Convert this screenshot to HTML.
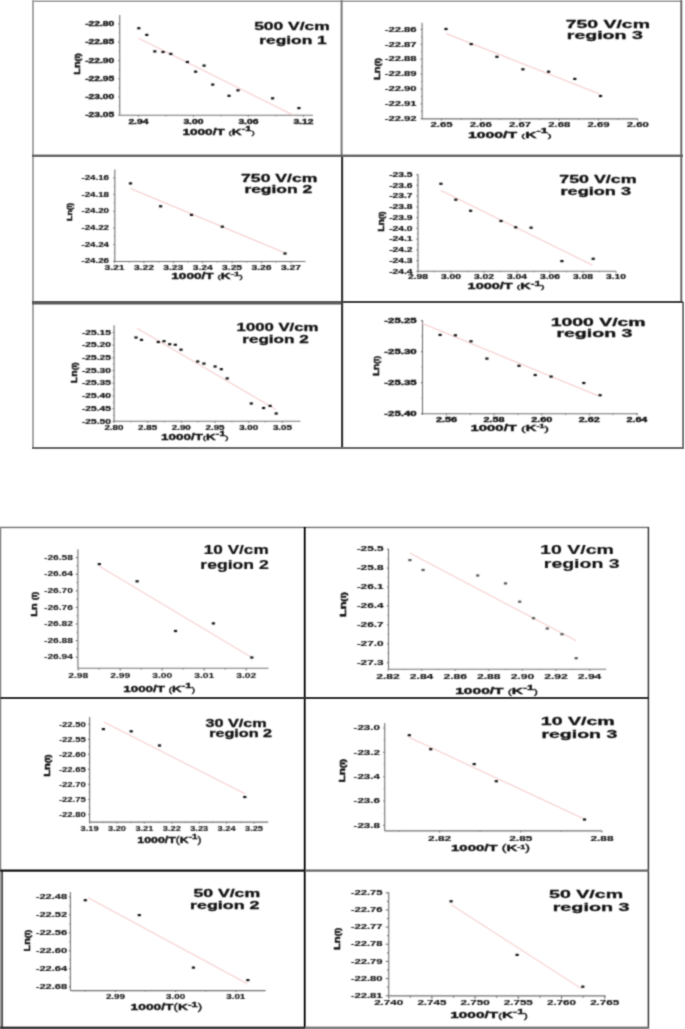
<!DOCTYPE html><html><head><meta charset="utf-8"><style>html,body{margin:0;padding:0;background:#fff;width:685px;height:1029px;overflow:hidden}svg{display:block}text{font-family:"Liberation Sans",sans-serif}</style></head><body>
<svg width="685" height="1029" viewBox="0 0 685 1029">
<rect x="0" y="0" width="685" height="1029" fill="#fff"/>
<defs><filter id="bl" color-interpolation-filters="sRGB" filterUnits="userSpaceOnUse" x="0" y="0" width="685" height="1029"><feConvolveMatrix order="3" kernelMatrix="1 3 1 3 9 3 1 3 1" edgeMode="duplicate" preserveAlpha="true"/></filter></defs>
<g filter="url(#bl)">
<rect x="0" y="0" width="685" height="1029" fill="#fff"/>
<line x1="119.70" y1="15.00" x2="119.70" y2="115.30" stroke="#707070" stroke-width="1.1"/>
<line x1="119.70" y1="115.30" x2="312.80" y2="115.30" stroke="#707070" stroke-width="1.1"/>
<line x1="118.20" y1="23.90" x2="119.70" y2="23.90" stroke="#707070" stroke-width="1.1"/>
<text x="114.20" y="26.10" font-size="6.3" font-weight="bold" text-anchor="end" fill="#111" textLength="29.00" lengthAdjust="spacingAndGlyphs" stroke="#111" stroke-width="0.35">-22.80</text>
<line x1="118.80" y1="33.03" x2="119.70" y2="33.03" stroke="#707070" stroke-width="1.1"/>
<line x1="118.20" y1="42.17" x2="119.70" y2="42.17" stroke="#707070" stroke-width="1.1"/>
<text x="114.20" y="44.38" font-size="6.3" font-weight="bold" text-anchor="end" fill="#111" textLength="29.00" lengthAdjust="spacingAndGlyphs" stroke="#111" stroke-width="0.35">-22.85</text>
<line x1="118.80" y1="51.30" x2="119.70" y2="51.30" stroke="#707070" stroke-width="1.1"/>
<line x1="118.20" y1="60.44" x2="119.70" y2="60.44" stroke="#707070" stroke-width="1.1"/>
<text x="114.20" y="62.64" font-size="6.3" font-weight="bold" text-anchor="end" fill="#111" textLength="29.00" lengthAdjust="spacingAndGlyphs" stroke="#111" stroke-width="0.35">-22.90</text>
<line x1="118.80" y1="69.58" x2="119.70" y2="69.58" stroke="#707070" stroke-width="1.1"/>
<line x1="118.20" y1="78.71" x2="119.70" y2="78.71" stroke="#707070" stroke-width="1.1"/>
<text x="114.20" y="80.92" font-size="6.3" font-weight="bold" text-anchor="end" fill="#111" textLength="29.00" lengthAdjust="spacingAndGlyphs" stroke="#111" stroke-width="0.35">-22.95</text>
<line x1="118.80" y1="87.85" x2="119.70" y2="87.85" stroke="#707070" stroke-width="1.1"/>
<line x1="118.20" y1="96.98" x2="119.70" y2="96.98" stroke="#707070" stroke-width="1.1"/>
<text x="114.20" y="99.18" font-size="6.3" font-weight="bold" text-anchor="end" fill="#111" textLength="29.00" lengthAdjust="spacingAndGlyphs" stroke="#111" stroke-width="0.35">-23.00</text>
<line x1="118.80" y1="106.11" x2="119.70" y2="106.11" stroke="#707070" stroke-width="1.1"/>
<line x1="118.20" y1="115.25" x2="119.70" y2="115.25" stroke="#707070" stroke-width="1.1"/>
<text x="114.20" y="117.45" font-size="6.3" font-weight="bold" text-anchor="end" fill="#111" textLength="29.00" lengthAdjust="spacingAndGlyphs" stroke="#111" stroke-width="0.35">-23.05</text>
<line x1="138.40" y1="115.30" x2="138.40" y2="116.80" stroke="#707070" stroke-width="1.1"/>
<text x="138.40" y="123.91" font-size="6.3" font-weight="bold" text-anchor="middle" fill="#111" textLength="20.00" lengthAdjust="spacingAndGlyphs" stroke="#111" stroke-width="0.35">2.94</text>
<line x1="165.90" y1="115.30" x2="165.90" y2="116.20" stroke="#707070" stroke-width="1.1"/>
<line x1="193.40" y1="115.30" x2="193.40" y2="116.80" stroke="#707070" stroke-width="1.1"/>
<text x="193.40" y="123.91" font-size="6.3" font-weight="bold" text-anchor="middle" fill="#111" textLength="20.00" lengthAdjust="spacingAndGlyphs" stroke="#111" stroke-width="0.35">3.00</text>
<line x1="220.90" y1="115.30" x2="220.90" y2="116.20" stroke="#707070" stroke-width="1.1"/>
<line x1="248.40" y1="115.30" x2="248.40" y2="116.80" stroke="#707070" stroke-width="1.1"/>
<text x="248.40" y="123.91" font-size="6.3" font-weight="bold" text-anchor="middle" fill="#111" textLength="20.00" lengthAdjust="spacingAndGlyphs" stroke="#111" stroke-width="0.35">3.06</text>
<line x1="275.90" y1="115.30" x2="275.90" y2="116.20" stroke="#707070" stroke-width="1.1"/>
<line x1="303.40" y1="115.30" x2="303.40" y2="116.80" stroke="#707070" stroke-width="1.1"/>
<text x="303.40" y="123.91" font-size="6.3" font-weight="bold" text-anchor="middle" fill="#111" textLength="20.00" lengthAdjust="spacingAndGlyphs" stroke="#111" stroke-width="0.35">3.12</text>
<line x1="138.80" y1="38.40" x2="293.40" y2="115.20" stroke="#f6c2c2" stroke-width="1.0"/>
<rect x="137.20" y="27.10" width="3.20" height="2.20" fill="#111"/>
<rect x="145.20" y="33.80" width="3.20" height="2.20" fill="#111"/>
<rect x="153.20" y="50.30" width="3.20" height="2.20" fill="#111"/>
<rect x="161.40" y="50.90" width="3.20" height="2.20" fill="#111"/>
<rect x="169.20" y="52.80" width="3.20" height="2.20" fill="#111"/>
<rect x="185.80" y="60.90" width="3.20" height="2.20" fill="#111"/>
<rect x="194.00" y="70.60" width="3.20" height="2.20" fill="#111"/>
<rect x="202.50" y="64.50" width="3.20" height="2.20" fill="#111"/>
<rect x="211.10" y="83.50" width="3.20" height="2.20" fill="#111"/>
<rect x="227.40" y="94.70" width="3.20" height="2.20" fill="#111"/>
<rect x="236.40" y="89.20" width="3.20" height="2.20" fill="#111"/>
<rect x="271.00" y="97.20" width="3.20" height="2.20" fill="#111"/>
<rect x="297.30" y="107.00" width="3.20" height="2.20" fill="#111"/>
<text x="254.20" y="30.00" font-size="10.34" font-weight="bold" text-anchor="start" fill="#111" textLength="75.50" lengthAdjust="spacingAndGlyphs" stroke="#111" stroke-width="0.3">500 V/cm</text>
<text x="259.30" y="43.90" font-size="10.34" font-weight="bold" text-anchor="start" fill="#111" textLength="67.40" lengthAdjust="spacingAndGlyphs" stroke="#111" stroke-width="0.3">region 1</text>
<text x="182.40" y="134.80" font-size="8.3" font-weight="bold" fill="#111" stroke="#111" stroke-width="0.35" textLength="72.30" lengthAdjust="spacingAndGlyphs">1000/T <tspan font-size="5.98" font-weight="normal">(</tspan>K<tspan dy="-3.32" font-size="6.64">-1</tspan><tspan dy="3.32" font-size="5.98" font-weight="normal">)</tspan></text>
<text transform="translate(80.10,64.00) rotate(-90)" x="0" y="0" font-size="8.8" font-weight="bold" text-anchor="middle" fill="#111" stroke="#111" stroke-width="0.45" textLength="21.50" lengthAdjust="spacingAndGlyphs">Ln<tspan font-size="7.04">(I)</tspan></text>
<line x1="422.10" y1="22.70" x2="422.10" y2="118.90" stroke="#707070" stroke-width="1.1"/>
<line x1="422.10" y1="118.90" x2="637.70" y2="118.90" stroke="#707070" stroke-width="1.1"/>
<line x1="420.60" y1="29.40" x2="422.10" y2="29.40" stroke="#707070" stroke-width="1.1"/>
<text x="416.60" y="31.60" font-size="6.3" font-weight="bold" text-anchor="end" fill="#111" textLength="31.90" lengthAdjust="spacingAndGlyphs" stroke="#111" stroke-width="0.15">-22.86</text>
<line x1="421.20" y1="36.85" x2="422.10" y2="36.85" stroke="#707070" stroke-width="1.1"/>
<line x1="420.60" y1="44.30" x2="422.10" y2="44.30" stroke="#707070" stroke-width="1.1"/>
<text x="416.60" y="46.50" font-size="6.3" font-weight="bold" text-anchor="end" fill="#111" textLength="31.90" lengthAdjust="spacingAndGlyphs" stroke="#111" stroke-width="0.15">-22.87</text>
<line x1="421.20" y1="51.75" x2="422.10" y2="51.75" stroke="#707070" stroke-width="1.1"/>
<line x1="420.60" y1="59.20" x2="422.10" y2="59.20" stroke="#707070" stroke-width="1.1"/>
<text x="416.60" y="61.41" font-size="6.3" font-weight="bold" text-anchor="end" fill="#111" textLength="31.90" lengthAdjust="spacingAndGlyphs" stroke="#111" stroke-width="0.15">-22.88</text>
<line x1="421.20" y1="66.65" x2="422.10" y2="66.65" stroke="#707070" stroke-width="1.1"/>
<line x1="420.60" y1="74.10" x2="422.10" y2="74.10" stroke="#707070" stroke-width="1.1"/>
<text x="416.60" y="76.30" font-size="6.3" font-weight="bold" text-anchor="end" fill="#111" textLength="31.90" lengthAdjust="spacingAndGlyphs" stroke="#111" stroke-width="0.15">-22.89</text>
<line x1="421.20" y1="81.55" x2="422.10" y2="81.55" stroke="#707070" stroke-width="1.1"/>
<line x1="420.60" y1="89.00" x2="422.10" y2="89.00" stroke="#707070" stroke-width="1.1"/>
<text x="416.60" y="91.20" font-size="6.3" font-weight="bold" text-anchor="end" fill="#111" textLength="31.90" lengthAdjust="spacingAndGlyphs" stroke="#111" stroke-width="0.15">-22.90</text>
<line x1="421.20" y1="96.45" x2="422.10" y2="96.45" stroke="#707070" stroke-width="1.1"/>
<line x1="420.60" y1="103.90" x2="422.10" y2="103.90" stroke="#707070" stroke-width="1.1"/>
<text x="416.60" y="106.11" font-size="6.3" font-weight="bold" text-anchor="end" fill="#111" textLength="31.90" lengthAdjust="spacingAndGlyphs" stroke="#111" stroke-width="0.15">-22.91</text>
<line x1="421.20" y1="111.35" x2="422.10" y2="111.35" stroke="#707070" stroke-width="1.1"/>
<line x1="420.60" y1="118.80" x2="422.10" y2="118.80" stroke="#707070" stroke-width="1.1"/>
<text x="416.60" y="121.01" font-size="6.3" font-weight="bold" text-anchor="end" fill="#111" textLength="31.90" lengthAdjust="spacingAndGlyphs" stroke="#111" stroke-width="0.15">-22.92</text>
<line x1="441.50" y1="118.90" x2="441.50" y2="120.40" stroke="#707070" stroke-width="1.1"/>
<text x="441.50" y="127.20" font-size="6.3" font-weight="bold" text-anchor="middle" fill="#111" textLength="22.00" lengthAdjust="spacingAndGlyphs" stroke="#111" stroke-width="0.15">2.65</text>
<line x1="461.12" y1="118.90" x2="461.12" y2="119.80" stroke="#707070" stroke-width="1.1"/>
<line x1="480.75" y1="118.90" x2="480.75" y2="120.40" stroke="#707070" stroke-width="1.1"/>
<text x="480.75" y="127.20" font-size="6.3" font-weight="bold" text-anchor="middle" fill="#111" textLength="22.00" lengthAdjust="spacingAndGlyphs" stroke="#111" stroke-width="0.15">2.66</text>
<line x1="500.38" y1="118.90" x2="500.38" y2="119.80" stroke="#707070" stroke-width="1.1"/>
<line x1="520.00" y1="118.90" x2="520.00" y2="120.40" stroke="#707070" stroke-width="1.1"/>
<text x="520.00" y="127.20" font-size="6.3" font-weight="bold" text-anchor="middle" fill="#111" textLength="22.00" lengthAdjust="spacingAndGlyphs" stroke="#111" stroke-width="0.15">2.67</text>
<line x1="539.62" y1="118.90" x2="539.62" y2="119.80" stroke="#707070" stroke-width="1.1"/>
<line x1="559.25" y1="118.90" x2="559.25" y2="120.40" stroke="#707070" stroke-width="1.1"/>
<text x="559.25" y="127.20" font-size="6.3" font-weight="bold" text-anchor="middle" fill="#111" textLength="22.00" lengthAdjust="spacingAndGlyphs" stroke="#111" stroke-width="0.15">2.68</text>
<line x1="578.88" y1="118.90" x2="578.88" y2="119.80" stroke="#707070" stroke-width="1.1"/>
<line x1="598.50" y1="118.90" x2="598.50" y2="120.40" stroke="#707070" stroke-width="1.1"/>
<text x="598.50" y="127.20" font-size="6.3" font-weight="bold" text-anchor="middle" fill="#111" textLength="22.00" lengthAdjust="spacingAndGlyphs" stroke="#111" stroke-width="0.15">2.69</text>
<line x1="618.12" y1="118.90" x2="618.12" y2="119.80" stroke="#707070" stroke-width="1.1"/>
<line x1="637.75" y1="118.90" x2="637.75" y2="120.40" stroke="#707070" stroke-width="1.1"/>
<text x="637.75" y="127.20" font-size="6.3" font-weight="bold" text-anchor="middle" fill="#111" textLength="22.00" lengthAdjust="spacingAndGlyphs" stroke="#111" stroke-width="0.15">2.60</text>
<line x1="446.00" y1="33.50" x2="599.10" y2="93.80" stroke="#f6c2c2" stroke-width="1.0"/>
<rect x="444.40" y="27.90" width="3.20" height="2.20" fill="#111"/>
<rect x="469.60" y="43.00" width="3.20" height="2.20" fill="#111"/>
<rect x="495.30" y="55.70" width="3.20" height="2.20" fill="#111"/>
<rect x="521.30" y="68.20" width="3.20" height="2.20" fill="#111"/>
<rect x="547.00" y="70.60" width="3.20" height="2.20" fill="#111"/>
<rect x="573.20" y="77.80" width="3.20" height="2.20" fill="#111"/>
<rect x="598.90" y="94.90" width="3.20" height="2.20" fill="#111"/>
<text x="565.80" y="28.00" font-size="10.34" font-weight="bold" text-anchor="start" fill="#111" textLength="84.10" lengthAdjust="spacingAndGlyphs" stroke="#111" stroke-width="0.3">750 V/cm</text>
<text x="566.80" y="38.60" font-size="10.34" font-weight="bold" text-anchor="start" fill="#111" textLength="76.00" lengthAdjust="spacingAndGlyphs" stroke="#111" stroke-width="0.3">region 3</text>
<text x="468.10" y="137.50" font-size="8.3" font-weight="bold" fill="#111" stroke="#111" stroke-width="0.35" textLength="83.40" lengthAdjust="spacingAndGlyphs">1000/T <tspan font-size="5.98" font-weight="normal">(</tspan>K<tspan dy="-4.15" font-size="6.64">-1</tspan><tspan dy="4.15" font-size="5.98" font-weight="normal">)</tspan></text>
<text transform="translate(379.60,69.00) rotate(-90)" x="0" y="0" font-size="8.6" font-weight="bold" text-anchor="middle" fill="#111" stroke="#111" stroke-width="0.45" textLength="21.80" lengthAdjust="spacingAndGlyphs">Ln<tspan font-size="6.88">(I)</tspan></text>
<line x1="114.80" y1="169.50" x2="114.80" y2="261.50" stroke="#707070" stroke-width="1.1"/>
<line x1="114.80" y1="261.50" x2="305.50" y2="261.50" stroke="#707070" stroke-width="1.1"/>
<line x1="113.30" y1="177.90" x2="114.80" y2="177.90" stroke="#707070" stroke-width="1.1"/>
<text x="109.00" y="180.11" font-size="6.3" font-weight="bold" text-anchor="end" fill="#111" textLength="27.50" lengthAdjust="spacingAndGlyphs" stroke="#111" stroke-width="0.15">-24.16</text>
<line x1="113.90" y1="186.22" x2="114.80" y2="186.22" stroke="#707070" stroke-width="1.1"/>
<line x1="113.30" y1="194.55" x2="114.80" y2="194.55" stroke="#707070" stroke-width="1.1"/>
<text x="109.00" y="196.76" font-size="6.3" font-weight="bold" text-anchor="end" fill="#111" textLength="27.50" lengthAdjust="spacingAndGlyphs" stroke="#111" stroke-width="0.15">-24.18</text>
<line x1="113.90" y1="202.88" x2="114.80" y2="202.88" stroke="#707070" stroke-width="1.1"/>
<line x1="113.30" y1="211.20" x2="114.80" y2="211.20" stroke="#707070" stroke-width="1.1"/>
<text x="109.00" y="213.41" font-size="6.3" font-weight="bold" text-anchor="end" fill="#111" textLength="27.50" lengthAdjust="spacingAndGlyphs" stroke="#111" stroke-width="0.15">-24.20</text>
<line x1="113.90" y1="219.52" x2="114.80" y2="219.52" stroke="#707070" stroke-width="1.1"/>
<line x1="113.30" y1="227.85" x2="114.80" y2="227.85" stroke="#707070" stroke-width="1.1"/>
<text x="109.00" y="230.06" font-size="6.3" font-weight="bold" text-anchor="end" fill="#111" textLength="27.50" lengthAdjust="spacingAndGlyphs" stroke="#111" stroke-width="0.15">-24.22</text>
<line x1="113.90" y1="236.17" x2="114.80" y2="236.17" stroke="#707070" stroke-width="1.1"/>
<line x1="113.30" y1="244.50" x2="114.80" y2="244.50" stroke="#707070" stroke-width="1.1"/>
<text x="109.00" y="246.71" font-size="6.3" font-weight="bold" text-anchor="end" fill="#111" textLength="27.50" lengthAdjust="spacingAndGlyphs" stroke="#111" stroke-width="0.15">-24.24</text>
<line x1="113.90" y1="252.82" x2="114.80" y2="252.82" stroke="#707070" stroke-width="1.1"/>
<line x1="113.30" y1="261.15" x2="114.80" y2="261.15" stroke="#707070" stroke-width="1.1"/>
<text x="109.00" y="263.35" font-size="6.3" font-weight="bold" text-anchor="end" fill="#111" textLength="27.50" lengthAdjust="spacingAndGlyphs" stroke="#111" stroke-width="0.15">-24.26</text>
<line x1="114.50" y1="261.50" x2="114.50" y2="263.00" stroke="#707070" stroke-width="1.1"/>
<text x="114.50" y="270.40" font-size="6.3" font-weight="bold" text-anchor="middle" fill="#111" textLength="20.00" lengthAdjust="spacingAndGlyphs" stroke="#111" stroke-width="0.15">3.21</text>
<line x1="129.20" y1="261.50" x2="129.20" y2="262.40" stroke="#707070" stroke-width="1.1"/>
<line x1="143.90" y1="261.50" x2="143.90" y2="263.00" stroke="#707070" stroke-width="1.1"/>
<text x="143.90" y="270.40" font-size="6.3" font-weight="bold" text-anchor="middle" fill="#111" textLength="20.00" lengthAdjust="spacingAndGlyphs" stroke="#111" stroke-width="0.15">3.22</text>
<line x1="158.60" y1="261.50" x2="158.60" y2="262.40" stroke="#707070" stroke-width="1.1"/>
<line x1="173.30" y1="261.50" x2="173.30" y2="263.00" stroke="#707070" stroke-width="1.1"/>
<text x="173.30" y="270.40" font-size="6.3" font-weight="bold" text-anchor="middle" fill="#111" textLength="20.00" lengthAdjust="spacingAndGlyphs" stroke="#111" stroke-width="0.15">3.23</text>
<line x1="188.00" y1="261.50" x2="188.00" y2="262.40" stroke="#707070" stroke-width="1.1"/>
<line x1="202.70" y1="261.50" x2="202.70" y2="263.00" stroke="#707070" stroke-width="1.1"/>
<text x="202.70" y="270.40" font-size="6.3" font-weight="bold" text-anchor="middle" fill="#111" textLength="20.00" lengthAdjust="spacingAndGlyphs" stroke="#111" stroke-width="0.15">3.24</text>
<line x1="217.40" y1="261.50" x2="217.40" y2="262.40" stroke="#707070" stroke-width="1.1"/>
<line x1="232.10" y1="261.50" x2="232.10" y2="263.00" stroke="#707070" stroke-width="1.1"/>
<text x="232.10" y="270.40" font-size="6.3" font-weight="bold" text-anchor="middle" fill="#111" textLength="20.00" lengthAdjust="spacingAndGlyphs" stroke="#111" stroke-width="0.15">3.25</text>
<line x1="246.80" y1="261.50" x2="246.80" y2="262.40" stroke="#707070" stroke-width="1.1"/>
<line x1="261.50" y1="261.50" x2="261.50" y2="263.00" stroke="#707070" stroke-width="1.1"/>
<text x="261.50" y="270.40" font-size="6.3" font-weight="bold" text-anchor="middle" fill="#111" textLength="20.00" lengthAdjust="spacingAndGlyphs" stroke="#111" stroke-width="0.15">3.26</text>
<line x1="276.20" y1="261.50" x2="276.20" y2="262.40" stroke="#707070" stroke-width="1.1"/>
<line x1="290.90" y1="261.50" x2="290.90" y2="263.00" stroke="#707070" stroke-width="1.1"/>
<text x="290.90" y="270.40" font-size="6.3" font-weight="bold" text-anchor="middle" fill="#111" textLength="20.00" lengthAdjust="spacingAndGlyphs" stroke="#111" stroke-width="0.15">3.27</text>
<line x1="130.50" y1="188.50" x2="284.00" y2="252.50" stroke="#f6c2c2" stroke-width="1.0"/>
<rect x="128.90" y="182.30" width="3.20" height="2.20" fill="#111"/>
<rect x="159.00" y="205.20" width="3.20" height="2.20" fill="#111"/>
<rect x="189.90" y="213.80" width="3.20" height="2.20" fill="#111"/>
<rect x="220.70" y="225.60" width="3.20" height="2.20" fill="#111"/>
<rect x="283.40" y="252.40" width="3.20" height="2.20" fill="#111"/>
<text x="241.10" y="181.80" font-size="10.34" font-weight="bold" text-anchor="start" fill="#111" textLength="76.20" lengthAdjust="spacingAndGlyphs" stroke="#111" stroke-width="0.3">750 V/cm</text>
<text x="244.40" y="192.60" font-size="10.34" font-weight="bold" text-anchor="start" fill="#111" textLength="67.80" lengthAdjust="spacingAndGlyphs" stroke="#111" stroke-width="0.3">region 2</text>
<text x="171.30" y="278.80" font-size="8.3" font-weight="bold" fill="#111" stroke="#111" stroke-width="0.35" textLength="71.60" lengthAdjust="spacingAndGlyphs">1000/T <tspan font-size="5.98" font-weight="normal">(</tspan>K<tspan dy="-2.49" font-size="6.23">-1</tspan><tspan dy="2.49" font-size="5.98" font-weight="normal">)</tspan></text>
<text transform="translate(72.20,212.10) rotate(-90)" x="0" y="0" font-size="8" font-weight="bold" text-anchor="middle" fill="#111" stroke="#111" stroke-width="0.45" textLength="18.00" lengthAdjust="spacingAndGlyphs">Ln<tspan font-size="6.40">(I)</tspan></text>
<line x1="418.00" y1="174.20" x2="418.00" y2="271.30" stroke="#707070" stroke-width="1.1"/>
<line x1="418.00" y1="271.30" x2="616.10" y2="271.30" stroke="#707070" stroke-width="1.1"/>
<line x1="416.50" y1="174.60" x2="418.00" y2="174.60" stroke="#707070" stroke-width="1.1"/>
<text x="412.60" y="176.81" font-size="6.3" font-weight="bold" text-anchor="end" fill="#111" textLength="23.40" lengthAdjust="spacingAndGlyphs" stroke="#111" stroke-width="0.18">-23.5</text>
<line x1="417.10" y1="179.97" x2="418.00" y2="179.97" stroke="#707070" stroke-width="1.1"/>
<line x1="416.50" y1="185.35" x2="418.00" y2="185.35" stroke="#707070" stroke-width="1.1"/>
<text x="412.60" y="187.56" font-size="6.3" font-weight="bold" text-anchor="end" fill="#111" textLength="23.40" lengthAdjust="spacingAndGlyphs" stroke="#111" stroke-width="0.18">-23.6</text>
<line x1="417.10" y1="190.72" x2="418.00" y2="190.72" stroke="#707070" stroke-width="1.1"/>
<line x1="416.50" y1="196.10" x2="418.00" y2="196.10" stroke="#707070" stroke-width="1.1"/>
<text x="412.60" y="198.31" font-size="6.3" font-weight="bold" text-anchor="end" fill="#111" textLength="23.40" lengthAdjust="spacingAndGlyphs" stroke="#111" stroke-width="0.18">-23.7</text>
<line x1="417.10" y1="201.47" x2="418.00" y2="201.47" stroke="#707070" stroke-width="1.1"/>
<line x1="416.50" y1="206.85" x2="418.00" y2="206.85" stroke="#707070" stroke-width="1.1"/>
<text x="412.60" y="209.06" font-size="6.3" font-weight="bold" text-anchor="end" fill="#111" textLength="23.40" lengthAdjust="spacingAndGlyphs" stroke="#111" stroke-width="0.18">-23.8</text>
<line x1="417.10" y1="212.22" x2="418.00" y2="212.22" stroke="#707070" stroke-width="1.1"/>
<line x1="416.50" y1="217.60" x2="418.00" y2="217.60" stroke="#707070" stroke-width="1.1"/>
<text x="412.60" y="219.81" font-size="6.3" font-weight="bold" text-anchor="end" fill="#111" textLength="23.40" lengthAdjust="spacingAndGlyphs" stroke="#111" stroke-width="0.18">-23.9</text>
<line x1="417.10" y1="222.97" x2="418.00" y2="222.97" stroke="#707070" stroke-width="1.1"/>
<line x1="416.50" y1="228.35" x2="418.00" y2="228.35" stroke="#707070" stroke-width="1.1"/>
<text x="412.60" y="230.56" font-size="6.3" font-weight="bold" text-anchor="end" fill="#111" textLength="23.40" lengthAdjust="spacingAndGlyphs" stroke="#111" stroke-width="0.18">-24.0</text>
<line x1="417.10" y1="233.72" x2="418.00" y2="233.72" stroke="#707070" stroke-width="1.1"/>
<line x1="416.50" y1="239.10" x2="418.00" y2="239.10" stroke="#707070" stroke-width="1.1"/>
<text x="412.60" y="241.31" font-size="6.3" font-weight="bold" text-anchor="end" fill="#111" textLength="23.40" lengthAdjust="spacingAndGlyphs" stroke="#111" stroke-width="0.18">-24.1</text>
<line x1="417.10" y1="244.47" x2="418.00" y2="244.47" stroke="#707070" stroke-width="1.1"/>
<line x1="416.50" y1="249.85" x2="418.00" y2="249.85" stroke="#707070" stroke-width="1.1"/>
<text x="412.60" y="252.06" font-size="6.3" font-weight="bold" text-anchor="end" fill="#111" textLength="23.40" lengthAdjust="spacingAndGlyphs" stroke="#111" stroke-width="0.18">-24.2</text>
<line x1="417.10" y1="255.22" x2="418.00" y2="255.22" stroke="#707070" stroke-width="1.1"/>
<line x1="416.50" y1="260.60" x2="418.00" y2="260.60" stroke="#707070" stroke-width="1.1"/>
<text x="412.60" y="262.81" font-size="6.3" font-weight="bold" text-anchor="end" fill="#111" textLength="23.40" lengthAdjust="spacingAndGlyphs" stroke="#111" stroke-width="0.18">-24.3</text>
<line x1="417.10" y1="265.98" x2="418.00" y2="265.98" stroke="#707070" stroke-width="1.1"/>
<line x1="416.50" y1="271.35" x2="418.00" y2="271.35" stroke="#707070" stroke-width="1.1"/>
<text x="412.60" y="273.56" font-size="6.3" font-weight="bold" text-anchor="end" fill="#111" textLength="23.40" lengthAdjust="spacingAndGlyphs" stroke="#111" stroke-width="0.18">-24.4</text>
<line x1="418.00" y1="271.30" x2="418.00" y2="272.80" stroke="#707070" stroke-width="1.1"/>
<text x="418.00" y="279.20" font-size="6.3" font-weight="bold" text-anchor="middle" fill="#111" textLength="20.00" lengthAdjust="spacingAndGlyphs" stroke="#111" stroke-width="0.18">2.98</text>
<line x1="434.50" y1="271.30" x2="434.50" y2="272.20" stroke="#707070" stroke-width="1.1"/>
<line x1="451.00" y1="271.30" x2="451.00" y2="272.80" stroke="#707070" stroke-width="1.1"/>
<text x="451.00" y="279.20" font-size="6.3" font-weight="bold" text-anchor="middle" fill="#111" textLength="20.00" lengthAdjust="spacingAndGlyphs" stroke="#111" stroke-width="0.18">3.00</text>
<line x1="467.50" y1="271.30" x2="467.50" y2="272.20" stroke="#707070" stroke-width="1.1"/>
<line x1="484.00" y1="271.30" x2="484.00" y2="272.80" stroke="#707070" stroke-width="1.1"/>
<text x="484.00" y="279.20" font-size="6.3" font-weight="bold" text-anchor="middle" fill="#111" textLength="20.00" lengthAdjust="spacingAndGlyphs" stroke="#111" stroke-width="0.18">3.02</text>
<line x1="500.50" y1="271.30" x2="500.50" y2="272.20" stroke="#707070" stroke-width="1.1"/>
<line x1="517.00" y1="271.30" x2="517.00" y2="272.80" stroke="#707070" stroke-width="1.1"/>
<text x="517.00" y="279.20" font-size="6.3" font-weight="bold" text-anchor="middle" fill="#111" textLength="20.00" lengthAdjust="spacingAndGlyphs" stroke="#111" stroke-width="0.18">3.04</text>
<line x1="533.50" y1="271.30" x2="533.50" y2="272.20" stroke="#707070" stroke-width="1.1"/>
<line x1="550.00" y1="271.30" x2="550.00" y2="272.80" stroke="#707070" stroke-width="1.1"/>
<text x="550.00" y="279.20" font-size="6.3" font-weight="bold" text-anchor="middle" fill="#111" textLength="20.00" lengthAdjust="spacingAndGlyphs" stroke="#111" stroke-width="0.18">3.06</text>
<line x1="566.50" y1="271.30" x2="566.50" y2="272.20" stroke="#707070" stroke-width="1.1"/>
<line x1="583.00" y1="271.30" x2="583.00" y2="272.80" stroke="#707070" stroke-width="1.1"/>
<text x="583.00" y="279.20" font-size="6.3" font-weight="bold" text-anchor="middle" fill="#111" textLength="20.00" lengthAdjust="spacingAndGlyphs" stroke="#111" stroke-width="0.18">3.08</text>
<line x1="599.50" y1="271.30" x2="599.50" y2="272.20" stroke="#707070" stroke-width="1.1"/>
<line x1="616.00" y1="271.30" x2="616.00" y2="272.80" stroke="#707070" stroke-width="1.1"/>
<text x="616.00" y="279.20" font-size="6.3" font-weight="bold" text-anchor="middle" fill="#111" textLength="20.00" lengthAdjust="spacingAndGlyphs" stroke="#111" stroke-width="0.18">3.10</text>
<line x1="440.90" y1="190.50" x2="592.40" y2="265.10" stroke="#f6c2c2" stroke-width="1.0"/>
<rect x="439.30" y="182.70" width="3.20" height="2.20" fill="#111"/>
<rect x="454.20" y="198.60" width="3.20" height="2.20" fill="#111"/>
<rect x="469.00" y="209.70" width="3.20" height="2.20" fill="#111"/>
<rect x="499.40" y="219.90" width="3.20" height="2.20" fill="#111"/>
<rect x="514.10" y="226.20" width="3.20" height="2.20" fill="#111"/>
<rect x="529.50" y="226.60" width="3.20" height="2.20" fill="#111"/>
<rect x="560.30" y="260.00" width="3.20" height="2.20" fill="#111"/>
<rect x="591.60" y="257.70" width="3.20" height="2.20" fill="#111"/>
<text x="559.30" y="183.40" font-size="10.34" font-weight="bold" text-anchor="start" fill="#111" textLength="77.20" lengthAdjust="spacingAndGlyphs" stroke="#111" stroke-width="0.3">750 V/cm</text>
<text x="560.50" y="194.60" font-size="10.34" font-weight="bold" text-anchor="start" fill="#111" textLength="70.50" lengthAdjust="spacingAndGlyphs" stroke="#111" stroke-width="0.3">region 3</text>
<text x="467.60" y="289.00" font-size="8.3" font-weight="bold" fill="#111" stroke="#111" stroke-width="0.35" textLength="76.90" lengthAdjust="spacingAndGlyphs">1000/T <tspan font-size="5.98" font-weight="normal">(</tspan>K<tspan dy="-3.32" font-size="6.64">-1</tspan><tspan dy="3.32" font-size="5.98" font-weight="normal">)</tspan></text>
<text transform="translate(384.30,221.60) rotate(-90)" x="0" y="0" font-size="9" font-weight="bold" text-anchor="middle" fill="#111" stroke="#111" stroke-width="0.45" textLength="20.40" lengthAdjust="spacingAndGlyphs">Ln<tspan font-size="7.20">(I)</tspan></text>
<line x1="114.10" y1="325.20" x2="114.10" y2="421.30" stroke="#707070" stroke-width="1.1"/>
<line x1="114.10" y1="421.30" x2="300.40" y2="421.30" stroke="#707070" stroke-width="1.1"/>
<line x1="112.60" y1="332.40" x2="114.10" y2="332.40" stroke="#707070" stroke-width="1.1"/>
<text x="110.90" y="334.60" font-size="6.3" font-weight="bold" text-anchor="end" fill="#111" textLength="29.00" lengthAdjust="spacingAndGlyphs" stroke="#111" stroke-width="0.18">-25.15</text>
<line x1="113.20" y1="338.75" x2="114.10" y2="338.75" stroke="#707070" stroke-width="1.1"/>
<line x1="112.60" y1="345.10" x2="114.10" y2="345.10" stroke="#707070" stroke-width="1.1"/>
<text x="110.90" y="347.30" font-size="6.3" font-weight="bold" text-anchor="end" fill="#111" textLength="29.00" lengthAdjust="spacingAndGlyphs" stroke="#111" stroke-width="0.18">-25.20</text>
<line x1="113.20" y1="351.45" x2="114.10" y2="351.45" stroke="#707070" stroke-width="1.1"/>
<line x1="112.60" y1="357.80" x2="114.10" y2="357.80" stroke="#707070" stroke-width="1.1"/>
<text x="110.90" y="360.00" font-size="6.3" font-weight="bold" text-anchor="end" fill="#111" textLength="29.00" lengthAdjust="spacingAndGlyphs" stroke="#111" stroke-width="0.18">-25.25</text>
<line x1="113.20" y1="364.15" x2="114.10" y2="364.15" stroke="#707070" stroke-width="1.1"/>
<line x1="112.60" y1="370.50" x2="114.10" y2="370.50" stroke="#707070" stroke-width="1.1"/>
<text x="110.90" y="372.70" font-size="6.3" font-weight="bold" text-anchor="end" fill="#111" textLength="29.00" lengthAdjust="spacingAndGlyphs" stroke="#111" stroke-width="0.18">-25.30</text>
<line x1="113.20" y1="376.85" x2="114.10" y2="376.85" stroke="#707070" stroke-width="1.1"/>
<line x1="112.60" y1="383.20" x2="114.10" y2="383.20" stroke="#707070" stroke-width="1.1"/>
<text x="110.90" y="385.40" font-size="6.3" font-weight="bold" text-anchor="end" fill="#111" textLength="29.00" lengthAdjust="spacingAndGlyphs" stroke="#111" stroke-width="0.18">-25.35</text>
<line x1="113.20" y1="389.55" x2="114.10" y2="389.55" stroke="#707070" stroke-width="1.1"/>
<line x1="112.60" y1="395.90" x2="114.10" y2="395.90" stroke="#707070" stroke-width="1.1"/>
<text x="110.90" y="398.10" font-size="6.3" font-weight="bold" text-anchor="end" fill="#111" textLength="29.00" lengthAdjust="spacingAndGlyphs" stroke="#111" stroke-width="0.18">-25.40</text>
<line x1="113.20" y1="402.25" x2="114.10" y2="402.25" stroke="#707070" stroke-width="1.1"/>
<line x1="112.60" y1="408.60" x2="114.10" y2="408.60" stroke="#707070" stroke-width="1.1"/>
<text x="110.90" y="410.80" font-size="6.3" font-weight="bold" text-anchor="end" fill="#111" textLength="29.00" lengthAdjust="spacingAndGlyphs" stroke="#111" stroke-width="0.18">-25.45</text>
<line x1="113.20" y1="414.95" x2="114.10" y2="414.95" stroke="#707070" stroke-width="1.1"/>
<line x1="112.60" y1="421.30" x2="114.10" y2="421.30" stroke="#707070" stroke-width="1.1"/>
<text x="110.90" y="423.50" font-size="6.3" font-weight="bold" text-anchor="end" fill="#111" textLength="29.00" lengthAdjust="spacingAndGlyphs" stroke="#111" stroke-width="0.18">-25.50</text>
<line x1="113.90" y1="421.30" x2="113.90" y2="422.80" stroke="#707070" stroke-width="1.1"/>
<text x="113.90" y="430.31" font-size="6.3" font-weight="bold" text-anchor="middle" fill="#111" textLength="19.00" lengthAdjust="spacingAndGlyphs" stroke="#111" stroke-width="0.18">2.80</text>
<line x1="130.75" y1="421.30" x2="130.75" y2="422.20" stroke="#707070" stroke-width="1.1"/>
<line x1="147.60" y1="421.30" x2="147.60" y2="422.80" stroke="#707070" stroke-width="1.1"/>
<text x="147.60" y="430.31" font-size="6.3" font-weight="bold" text-anchor="middle" fill="#111" textLength="19.00" lengthAdjust="spacingAndGlyphs" stroke="#111" stroke-width="0.18">2.85</text>
<line x1="164.45" y1="421.30" x2="164.45" y2="422.20" stroke="#707070" stroke-width="1.1"/>
<line x1="181.30" y1="421.30" x2="181.30" y2="422.80" stroke="#707070" stroke-width="1.1"/>
<text x="181.30" y="430.31" font-size="6.3" font-weight="bold" text-anchor="middle" fill="#111" textLength="19.00" lengthAdjust="spacingAndGlyphs" stroke="#111" stroke-width="0.18">2.90</text>
<line x1="198.15" y1="421.30" x2="198.15" y2="422.20" stroke="#707070" stroke-width="1.1"/>
<line x1="215.00" y1="421.30" x2="215.00" y2="422.80" stroke="#707070" stroke-width="1.1"/>
<text x="215.00" y="430.31" font-size="6.3" font-weight="bold" text-anchor="middle" fill="#111" textLength="19.00" lengthAdjust="spacingAndGlyphs" stroke="#111" stroke-width="0.18">2.95</text>
<line x1="231.85" y1="421.30" x2="231.85" y2="422.20" stroke="#707070" stroke-width="1.1"/>
<line x1="248.70" y1="421.30" x2="248.70" y2="422.80" stroke="#707070" stroke-width="1.1"/>
<text x="248.70" y="430.31" font-size="6.3" font-weight="bold" text-anchor="middle" fill="#111" textLength="19.00" lengthAdjust="spacingAndGlyphs" stroke="#111" stroke-width="0.18">3.00</text>
<line x1="265.55" y1="421.30" x2="265.55" y2="422.20" stroke="#707070" stroke-width="1.1"/>
<line x1="282.40" y1="421.30" x2="282.40" y2="422.80" stroke="#707070" stroke-width="1.1"/>
<text x="282.40" y="430.31" font-size="6.3" font-weight="bold" text-anchor="middle" fill="#111" textLength="19.00" lengthAdjust="spacingAndGlyphs" stroke="#111" stroke-width="0.18">3.05</text>
<line x1="137.00" y1="328.30" x2="275.80" y2="409.40" stroke="#f6c2c2" stroke-width="1.0"/>
<rect x="134.40" y="336.40" width="3.20" height="2.20" fill="#111"/>
<rect x="139.90" y="338.80" width="3.20" height="2.20" fill="#111"/>
<rect x="156.70" y="340.90" width="3.20" height="2.20" fill="#111"/>
<rect x="162.40" y="340.10" width="3.20" height="2.20" fill="#111"/>
<rect x="168.10" y="343.10" width="3.20" height="2.20" fill="#111"/>
<rect x="173.70" y="343.70" width="3.20" height="2.20" fill="#111"/>
<rect x="179.40" y="348.60" width="3.20" height="2.20" fill="#111"/>
<rect x="196.10" y="360.40" width="3.20" height="2.20" fill="#111"/>
<rect x="202.30" y="362.50" width="3.20" height="2.20" fill="#111"/>
<rect x="213.50" y="365.40" width="3.20" height="2.20" fill="#111"/>
<rect x="219.70" y="368.10" width="3.20" height="2.20" fill="#111"/>
<rect x="225.60" y="377.30" width="3.20" height="2.20" fill="#111"/>
<rect x="249.70" y="402.40" width="3.20" height="2.20" fill="#111"/>
<rect x="262.00" y="406.90" width="3.20" height="2.20" fill="#111"/>
<rect x="268.50" y="404.80" width="3.20" height="2.20" fill="#111"/>
<rect x="274.60" y="412.40" width="3.20" height="2.20" fill="#111"/>
<text x="236.60" y="331.40" font-size="10.34" font-weight="bold" text-anchor="start" fill="#111" textLength="81.70" lengthAdjust="spacingAndGlyphs" stroke="#111" stroke-width="0.3">1000 V/cm</text>
<text x="242.30" y="342.60" font-size="10.34" font-weight="bold" text-anchor="start" fill="#111" textLength="66.40" lengthAdjust="spacingAndGlyphs" stroke="#111" stroke-width="0.3">region 2</text>
<text x="161.10" y="439.50" font-size="8.3" font-weight="bold" fill="#111" stroke="#111" stroke-width="0.35" textLength="67.50" lengthAdjust="spacingAndGlyphs">1000/T<tspan font-size="5.98" font-weight="normal">(</tspan>K<tspan dy="-3.32" font-size="6.64">-1</tspan><tspan dy="3.32" font-size="5.98" font-weight="normal">)</tspan></text>
<text transform="translate(76.50,372.80) rotate(-90)" x="0" y="0" font-size="8.5" font-weight="bold" text-anchor="middle" fill="#111" stroke="#111" stroke-width="0.45" textLength="20.70" lengthAdjust="spacingAndGlyphs">Ln<tspan font-size="6.80">(I)</tspan></text>
<line x1="422.50" y1="320.40" x2="422.50" y2="413.80" stroke="#707070" stroke-width="1.1"/>
<line x1="422.50" y1="413.80" x2="638.00" y2="413.80" stroke="#707070" stroke-width="1.1"/>
<line x1="421.00" y1="320.60" x2="422.50" y2="320.60" stroke="#707070" stroke-width="1.1"/>
<text x="416.60" y="322.81" font-size="6.3" font-weight="bold" text-anchor="end" fill="#111" textLength="32.30" lengthAdjust="spacingAndGlyphs" stroke="#111" stroke-width="0.35">-25.25</text>
<line x1="421.60" y1="336.10" x2="422.50" y2="336.10" stroke="#707070" stroke-width="1.1"/>
<line x1="421.00" y1="351.60" x2="422.50" y2="351.60" stroke="#707070" stroke-width="1.1"/>
<text x="416.60" y="353.81" font-size="6.3" font-weight="bold" text-anchor="end" fill="#111" textLength="32.30" lengthAdjust="spacingAndGlyphs" stroke="#111" stroke-width="0.35">-25.30</text>
<line x1="421.60" y1="367.10" x2="422.50" y2="367.10" stroke="#707070" stroke-width="1.1"/>
<line x1="421.00" y1="382.60" x2="422.50" y2="382.60" stroke="#707070" stroke-width="1.1"/>
<text x="416.60" y="384.81" font-size="6.3" font-weight="bold" text-anchor="end" fill="#111" textLength="32.30" lengthAdjust="spacingAndGlyphs" stroke="#111" stroke-width="0.35">-25.35</text>
<line x1="421.60" y1="398.10" x2="422.50" y2="398.10" stroke="#707070" stroke-width="1.1"/>
<line x1="421.00" y1="413.60" x2="422.50" y2="413.60" stroke="#707070" stroke-width="1.1"/>
<text x="416.60" y="415.81" font-size="6.3" font-weight="bold" text-anchor="end" fill="#111" textLength="32.30" lengthAdjust="spacingAndGlyphs" stroke="#111" stroke-width="0.35">-25.40</text>
<line x1="446.50" y1="413.80" x2="446.50" y2="415.30" stroke="#707070" stroke-width="1.1"/>
<text x="446.50" y="421.90" font-size="6.3" font-weight="bold" text-anchor="middle" fill="#111" textLength="21.00" lengthAdjust="spacingAndGlyphs" stroke="#111" stroke-width="0.35">2.56</text>
<line x1="470.30" y1="413.80" x2="470.30" y2="414.70" stroke="#707070" stroke-width="1.1"/>
<line x1="494.10" y1="413.80" x2="494.10" y2="415.30" stroke="#707070" stroke-width="1.1"/>
<text x="494.10" y="421.90" font-size="6.3" font-weight="bold" text-anchor="middle" fill="#111" textLength="21.00" lengthAdjust="spacingAndGlyphs" stroke="#111" stroke-width="0.35">2.58</text>
<line x1="517.90" y1="413.80" x2="517.90" y2="414.70" stroke="#707070" stroke-width="1.1"/>
<line x1="541.70" y1="413.80" x2="541.70" y2="415.30" stroke="#707070" stroke-width="1.1"/>
<text x="541.70" y="421.90" font-size="6.3" font-weight="bold" text-anchor="middle" fill="#111" textLength="21.00" lengthAdjust="spacingAndGlyphs" stroke="#111" stroke-width="0.35">2.60</text>
<line x1="565.50" y1="413.80" x2="565.50" y2="414.70" stroke="#707070" stroke-width="1.1"/>
<line x1="589.30" y1="413.80" x2="589.30" y2="415.30" stroke="#707070" stroke-width="1.1"/>
<text x="589.30" y="421.90" font-size="6.3" font-weight="bold" text-anchor="middle" fill="#111" textLength="21.00" lengthAdjust="spacingAndGlyphs" stroke="#111" stroke-width="0.35">2.62</text>
<line x1="613.10" y1="413.80" x2="613.10" y2="414.70" stroke="#707070" stroke-width="1.1"/>
<line x1="636.90" y1="413.80" x2="636.90" y2="415.30" stroke="#707070" stroke-width="1.1"/>
<text x="636.90" y="421.90" font-size="6.3" font-weight="bold" text-anchor="middle" fill="#111" textLength="21.00" lengthAdjust="spacingAndGlyphs" stroke="#111" stroke-width="0.35">2.64</text>
<line x1="422.70" y1="413.80" x2="422.70" y2="414.70" stroke="#707070" stroke-width="1.1"/>
<line x1="422.10" y1="323.30" x2="598.10" y2="395.80" stroke="#f6c2c2" stroke-width="1.0"/>
<rect x="438.50" y="333.80" width="3.20" height="2.20" fill="#111"/>
<rect x="453.80" y="334.20" width="3.20" height="2.20" fill="#111"/>
<rect x="469.40" y="340.20" width="3.20" height="2.20" fill="#111"/>
<rect x="485.30" y="357.50" width="3.20" height="2.20" fill="#111"/>
<rect x="517.40" y="364.70" width="3.20" height="2.20" fill="#111"/>
<rect x="533.60" y="373.90" width="3.20" height="2.20" fill="#111"/>
<rect x="549.50" y="375.50" width="3.20" height="2.20" fill="#111"/>
<rect x="582.20" y="381.90" width="3.20" height="2.20" fill="#111"/>
<rect x="598.50" y="394.10" width="3.20" height="2.20" fill="#111"/>
<text x="550.70" y="325.90" font-size="10.34" font-weight="bold" text-anchor="start" fill="#111" textLength="94.90" lengthAdjust="spacingAndGlyphs" stroke="#111" stroke-width="0.3">1000 V/cm</text>
<text x="556.40" y="336.60" font-size="10.34" font-weight="bold" text-anchor="start" fill="#111" textLength="76.00" lengthAdjust="spacingAndGlyphs" stroke="#111" stroke-width="0.3">region 3</text>
<text x="470.60" y="430.80" font-size="8.4" font-weight="bold" fill="#111" stroke="#111" stroke-width="0.35" textLength="78.50" lengthAdjust="spacingAndGlyphs">1000/T <tspan font-size="7.98" font-weight="normal">(</tspan>K<tspan dy="-2.52" font-size="5.04">-1</tspan><tspan dy="2.52" font-size="7.98" font-weight="normal">)</tspan></text>
<text transform="translate(378.60,366.10) rotate(-90)" x="0" y="0" font-size="8.5" font-weight="bold" text-anchor="middle" fill="#111" stroke="#111" stroke-width="0.45" textLength="20.00" lengthAdjust="spacingAndGlyphs">Ln<tspan font-size="6.80">(I)</tspan></text>
<line x1="77.90" y1="549.20" x2="77.90" y2="668.30" stroke="#707070" stroke-width="1.1"/>
<line x1="77.90" y1="668.30" x2="268.50" y2="668.30" stroke="#707070" stroke-width="1.1"/>
<line x1="75.70" y1="557.60" x2="77.90" y2="557.60" stroke="#707070" stroke-width="1.1"/>
<text x="73.00" y="559.81" font-size="6.3" font-weight="bold" text-anchor="end" fill="#111" textLength="29.00" lengthAdjust="spacingAndGlyphs" stroke="#111" stroke-width="0.05">-26.58</text>
<line x1="76.58" y1="565.90" x2="77.90" y2="565.90" stroke="#707070" stroke-width="1.1"/>
<line x1="75.70" y1="574.20" x2="77.90" y2="574.20" stroke="#707070" stroke-width="1.1"/>
<text x="73.00" y="576.41" font-size="6.3" font-weight="bold" text-anchor="end" fill="#111" textLength="29.00" lengthAdjust="spacingAndGlyphs" stroke="#111" stroke-width="0.05">-26.64</text>
<line x1="76.58" y1="582.50" x2="77.90" y2="582.50" stroke="#707070" stroke-width="1.1"/>
<line x1="75.70" y1="590.80" x2="77.90" y2="590.80" stroke="#707070" stroke-width="1.1"/>
<text x="73.00" y="593.01" font-size="6.3" font-weight="bold" text-anchor="end" fill="#111" textLength="29.00" lengthAdjust="spacingAndGlyphs" stroke="#111" stroke-width="0.05">-26.70</text>
<line x1="76.58" y1="599.10" x2="77.90" y2="599.10" stroke="#707070" stroke-width="1.1"/>
<line x1="75.70" y1="607.40" x2="77.90" y2="607.40" stroke="#707070" stroke-width="1.1"/>
<text x="73.00" y="609.61" font-size="6.3" font-weight="bold" text-anchor="end" fill="#111" textLength="29.00" lengthAdjust="spacingAndGlyphs" stroke="#111" stroke-width="0.05">-26.76</text>
<line x1="76.58" y1="615.70" x2="77.90" y2="615.70" stroke="#707070" stroke-width="1.1"/>
<line x1="75.70" y1="624.00" x2="77.90" y2="624.00" stroke="#707070" stroke-width="1.1"/>
<text x="73.00" y="626.21" font-size="6.3" font-weight="bold" text-anchor="end" fill="#111" textLength="29.00" lengthAdjust="spacingAndGlyphs" stroke="#111" stroke-width="0.05">-26.82</text>
<line x1="76.58" y1="632.30" x2="77.90" y2="632.30" stroke="#707070" stroke-width="1.1"/>
<line x1="75.70" y1="640.60" x2="77.90" y2="640.60" stroke="#707070" stroke-width="1.1"/>
<text x="73.00" y="642.81" font-size="6.3" font-weight="bold" text-anchor="end" fill="#111" textLength="29.00" lengthAdjust="spacingAndGlyphs" stroke="#111" stroke-width="0.05">-26.88</text>
<line x1="76.58" y1="648.90" x2="77.90" y2="648.90" stroke="#707070" stroke-width="1.1"/>
<line x1="75.70" y1="657.20" x2="77.90" y2="657.20" stroke="#707070" stroke-width="1.1"/>
<text x="73.00" y="659.41" font-size="6.3" font-weight="bold" text-anchor="end" fill="#111" textLength="29.00" lengthAdjust="spacingAndGlyphs" stroke="#111" stroke-width="0.05">-26.94</text>
<line x1="78.20" y1="668.30" x2="78.20" y2="670.50" stroke="#707070" stroke-width="1.1"/>
<text x="78.20" y="678.11" font-size="6.3" font-weight="bold" text-anchor="middle" fill="#111" textLength="20.00" lengthAdjust="spacingAndGlyphs" stroke="#111" stroke-width="0.05">2.98</text>
<line x1="99.20" y1="668.30" x2="99.20" y2="669.62" stroke="#707070" stroke-width="1.1"/>
<line x1="120.20" y1="668.30" x2="120.20" y2="670.50" stroke="#707070" stroke-width="1.1"/>
<text x="120.20" y="678.11" font-size="6.3" font-weight="bold" text-anchor="middle" fill="#111" textLength="20.00" lengthAdjust="spacingAndGlyphs" stroke="#111" stroke-width="0.05">2.99</text>
<line x1="141.20" y1="668.30" x2="141.20" y2="669.62" stroke="#707070" stroke-width="1.1"/>
<line x1="162.20" y1="668.30" x2="162.20" y2="670.50" stroke="#707070" stroke-width="1.1"/>
<text x="162.20" y="678.11" font-size="6.3" font-weight="bold" text-anchor="middle" fill="#111" textLength="20.00" lengthAdjust="spacingAndGlyphs" stroke="#111" stroke-width="0.05">3.00</text>
<line x1="183.20" y1="668.30" x2="183.20" y2="669.62" stroke="#707070" stroke-width="1.1"/>
<line x1="204.20" y1="668.30" x2="204.20" y2="670.50" stroke="#707070" stroke-width="1.1"/>
<text x="204.20" y="678.11" font-size="6.3" font-weight="bold" text-anchor="middle" fill="#111" textLength="20.00" lengthAdjust="spacingAndGlyphs" stroke="#111" stroke-width="0.05">3.01</text>
<line x1="225.20" y1="668.30" x2="225.20" y2="669.62" stroke="#707070" stroke-width="1.1"/>
<line x1="246.20" y1="668.30" x2="246.20" y2="670.50" stroke="#707070" stroke-width="1.1"/>
<text x="246.20" y="678.11" font-size="6.3" font-weight="bold" text-anchor="middle" fill="#111" textLength="20.00" lengthAdjust="spacingAndGlyphs" stroke="#111" stroke-width="0.05">3.02</text>
<line x1="99.30" y1="566.20" x2="250.10" y2="656.50" stroke="#f6c2c2" stroke-width="1.0"/>
<rect x="97.70" y="563.00" width="3.20" height="2.20" fill="#111"/>
<rect x="135.50" y="580.20" width="3.20" height="2.20" fill="#111"/>
<rect x="173.90" y="629.90" width="3.20" height="2.20" fill="#111"/>
<rect x="211.80" y="622.30" width="3.20" height="2.20" fill="#111"/>
<rect x="250.20" y="656.40" width="3.20" height="2.20" fill="#111"/>
<text x="203.80" y="553.80" font-size="12.22" font-weight="bold" text-anchor="start" fill="#111" textLength="64.90" lengthAdjust="spacingAndGlyphs" stroke="#111" stroke-width="0.2">10 V/cm</text>
<text x="200.30" y="569.40" font-size="12.22" font-weight="bold" text-anchor="start" fill="#111" textLength="68.40" lengthAdjust="spacingAndGlyphs" stroke="#111" stroke-width="0.2">region 2</text>
<text x="123.30" y="691.60" font-size="8.8" font-weight="bold" fill="#111" stroke="#111" stroke-width="0.35" textLength="71.60" lengthAdjust="spacingAndGlyphs">1000/T <tspan font-size="6.34" font-weight="normal">(</tspan>K<tspan dy="-3.96" font-size="7.48">-1</tspan><tspan dy="3.96" font-size="6.34" font-weight="normal">)</tspan></text>
<text transform="translate(37.20,604.30) rotate(-90)" x="0" y="0" font-size="8.8" font-weight="bold" text-anchor="middle" fill="#111" stroke="#111" stroke-width="0.45" textLength="25.00" lengthAdjust="spacingAndGlyphs">Ln <tspan font-size="7.04">(I)</tspan></text>
<line x1="388.50" y1="548.80" x2="388.50" y2="669.20" stroke="#707070" stroke-width="1.1"/>
<line x1="388.50" y1="669.20" x2="606.20" y2="669.20" stroke="#707070" stroke-width="1.1"/>
<line x1="387.00" y1="549.20" x2="388.50" y2="549.20" stroke="#707070" stroke-width="1.1"/>
<text x="383.60" y="551.41" font-size="6.3" font-weight="bold" text-anchor="end" fill="#111" textLength="26.90" lengthAdjust="spacingAndGlyphs" stroke="#111" stroke-width="0.12">-25.5</text>
<line x1="387.60" y1="558.65" x2="388.50" y2="558.65" stroke="#707070" stroke-width="1.1"/>
<line x1="387.00" y1="568.10" x2="388.50" y2="568.10" stroke="#707070" stroke-width="1.1"/>
<text x="383.60" y="570.31" font-size="6.3" font-weight="bold" text-anchor="end" fill="#111" textLength="26.90" lengthAdjust="spacingAndGlyphs" stroke="#111" stroke-width="0.12">-25.8</text>
<line x1="387.60" y1="577.55" x2="388.50" y2="577.55" stroke="#707070" stroke-width="1.1"/>
<line x1="387.00" y1="587.00" x2="388.50" y2="587.00" stroke="#707070" stroke-width="1.1"/>
<text x="383.60" y="589.21" font-size="6.3" font-weight="bold" text-anchor="end" fill="#111" textLength="26.90" lengthAdjust="spacingAndGlyphs" stroke="#111" stroke-width="0.12">-26.1</text>
<line x1="387.60" y1="596.45" x2="388.50" y2="596.45" stroke="#707070" stroke-width="1.1"/>
<line x1="387.00" y1="605.90" x2="388.50" y2="605.90" stroke="#707070" stroke-width="1.1"/>
<text x="383.60" y="608.11" font-size="6.3" font-weight="bold" text-anchor="end" fill="#111" textLength="26.90" lengthAdjust="spacingAndGlyphs" stroke="#111" stroke-width="0.12">-26.4</text>
<line x1="387.60" y1="615.35" x2="388.50" y2="615.35" stroke="#707070" stroke-width="1.1"/>
<line x1="387.00" y1="624.80" x2="388.50" y2="624.80" stroke="#707070" stroke-width="1.1"/>
<text x="383.60" y="627.01" font-size="6.3" font-weight="bold" text-anchor="end" fill="#111" textLength="26.90" lengthAdjust="spacingAndGlyphs" stroke="#111" stroke-width="0.12">-26.7</text>
<line x1="387.60" y1="634.25" x2="388.50" y2="634.25" stroke="#707070" stroke-width="1.1"/>
<line x1="387.00" y1="643.70" x2="388.50" y2="643.70" stroke="#707070" stroke-width="1.1"/>
<text x="383.60" y="645.91" font-size="6.3" font-weight="bold" text-anchor="end" fill="#111" textLength="26.90" lengthAdjust="spacingAndGlyphs" stroke="#111" stroke-width="0.12">-27.0</text>
<line x1="387.60" y1="653.15" x2="388.50" y2="653.15" stroke="#707070" stroke-width="1.1"/>
<line x1="387.00" y1="662.60" x2="388.50" y2="662.60" stroke="#707070" stroke-width="1.1"/>
<text x="383.60" y="664.81" font-size="6.3" font-weight="bold" text-anchor="end" fill="#111" textLength="26.90" lengthAdjust="spacingAndGlyphs" stroke="#111" stroke-width="0.12">-27.3</text>
<line x1="388.00" y1="669.20" x2="388.00" y2="670.70" stroke="#707070" stroke-width="1.1"/>
<text x="388.00" y="679.11" font-size="6.3" font-weight="bold" text-anchor="middle" fill="#111" textLength="23.50" lengthAdjust="spacingAndGlyphs" stroke="#111" stroke-width="0.12">2.82</text>
<line x1="404.80" y1="669.20" x2="404.80" y2="670.10" stroke="#707070" stroke-width="1.1"/>
<line x1="421.60" y1="669.20" x2="421.60" y2="670.70" stroke="#707070" stroke-width="1.1"/>
<text x="421.60" y="679.11" font-size="6.3" font-weight="bold" text-anchor="middle" fill="#111" textLength="23.50" lengthAdjust="spacingAndGlyphs" stroke="#111" stroke-width="0.12">2.84</text>
<line x1="438.40" y1="669.20" x2="438.40" y2="670.10" stroke="#707070" stroke-width="1.1"/>
<line x1="455.20" y1="669.20" x2="455.20" y2="670.70" stroke="#707070" stroke-width="1.1"/>
<text x="455.20" y="679.11" font-size="6.3" font-weight="bold" text-anchor="middle" fill="#111" textLength="23.50" lengthAdjust="spacingAndGlyphs" stroke="#111" stroke-width="0.12">2.86</text>
<line x1="472.00" y1="669.20" x2="472.00" y2="670.10" stroke="#707070" stroke-width="1.1"/>
<line x1="488.80" y1="669.20" x2="488.80" y2="670.70" stroke="#707070" stroke-width="1.1"/>
<text x="488.80" y="679.11" font-size="6.3" font-weight="bold" text-anchor="middle" fill="#111" textLength="23.50" lengthAdjust="spacingAndGlyphs" stroke="#111" stroke-width="0.12">2.88</text>
<line x1="505.60" y1="669.20" x2="505.60" y2="670.10" stroke="#707070" stroke-width="1.1"/>
<line x1="522.40" y1="669.20" x2="522.40" y2="670.70" stroke="#707070" stroke-width="1.1"/>
<text x="522.40" y="679.11" font-size="6.3" font-weight="bold" text-anchor="middle" fill="#111" textLength="23.50" lengthAdjust="spacingAndGlyphs" stroke="#111" stroke-width="0.12">2.90</text>
<line x1="539.20" y1="669.20" x2="539.20" y2="670.10" stroke="#707070" stroke-width="1.1"/>
<line x1="556.00" y1="669.20" x2="556.00" y2="670.70" stroke="#707070" stroke-width="1.1"/>
<text x="556.00" y="679.11" font-size="6.3" font-weight="bold" text-anchor="middle" fill="#111" textLength="23.50" lengthAdjust="spacingAndGlyphs" stroke="#111" stroke-width="0.12">2.92</text>
<line x1="572.80" y1="669.20" x2="572.80" y2="670.10" stroke="#707070" stroke-width="1.1"/>
<line x1="589.60" y1="669.20" x2="589.60" y2="670.70" stroke="#707070" stroke-width="1.1"/>
<text x="589.60" y="679.11" font-size="6.3" font-weight="bold" text-anchor="middle" fill="#111" textLength="23.50" lengthAdjust="spacingAndGlyphs" stroke="#111" stroke-width="0.12">2.94</text>
<line x1="409.90" y1="553.10" x2="576.20" y2="640.70" stroke="#f6c2c2" stroke-width="1.0"/>
<rect x="408.30" y="559.00" width="3.20" height="2.20" fill="#555"/>
<rect x="421.50" y="568.90" width="3.20" height="2.20" fill="#555"/>
<rect x="476.10" y="574.40" width="3.20" height="2.20" fill="#555"/>
<rect x="503.90" y="582.30" width="3.20" height="2.20" fill="#555"/>
<rect x="518.10" y="600.60" width="3.20" height="2.20" fill="#555"/>
<rect x="531.90" y="617.10" width="3.20" height="2.20" fill="#555"/>
<rect x="545.70" y="627.40" width="3.20" height="2.20" fill="#555"/>
<rect x="560.40" y="633.10" width="3.20" height="2.20" fill="#555"/>
<rect x="574.60" y="657.10" width="3.20" height="2.20" fill="#555"/>
<text x="540.10" y="553.90" font-size="12.6" font-weight="bold" text-anchor="start" fill="#111" textLength="73.90" lengthAdjust="spacingAndGlyphs" stroke="#111" stroke-width="0.15">10 V/cm</text>
<text x="543.80" y="568.40" font-size="12.6" font-weight="bold" text-anchor="start" fill="#111" textLength="75.80" lengthAdjust="spacingAndGlyphs" stroke="#111" stroke-width="0.15">region 3</text>
<text x="455.20" y="694.00" font-size="8.8" font-weight="bold" fill="#111" stroke="#111" stroke-width="0.35" textLength="82.60" lengthAdjust="spacingAndGlyphs">1000/T <tspan font-size="6.34" font-weight="normal">(</tspan>K<tspan dy="-3.96" font-size="7.04">-1</tspan><tspan dy="3.96" font-size="6.34" font-weight="normal">)</tspan></text>
<text transform="translate(345.50,604.60) rotate(-90)" x="0" y="0" font-size="9.8" font-weight="bold" text-anchor="middle" fill="#111" stroke="#111" stroke-width="0.45" textLength="25.00" lengthAdjust="spacingAndGlyphs">Ln<tspan font-size="7.84">(I)</tspan></text>
<line x1="89.60" y1="717.00" x2="89.60" y2="822.10" stroke="#707070" stroke-width="1.1"/>
<line x1="89.60" y1="822.10" x2="268.20" y2="822.10" stroke="#707070" stroke-width="1.1"/>
<line x1="88.10" y1="724.30" x2="89.60" y2="724.30" stroke="#707070" stroke-width="1.1"/>
<text x="85.80" y="726.50" font-size="6.3" font-weight="bold" text-anchor="end" fill="#111" textLength="26.90" lengthAdjust="spacingAndGlyphs" stroke="#111" stroke-width="0.08">-22.50</text>
<line x1="88.70" y1="731.81" x2="89.60" y2="731.81" stroke="#707070" stroke-width="1.1"/>
<line x1="88.10" y1="739.33" x2="89.60" y2="739.33" stroke="#707070" stroke-width="1.1"/>
<text x="85.80" y="741.53" font-size="6.3" font-weight="bold" text-anchor="end" fill="#111" textLength="26.90" lengthAdjust="spacingAndGlyphs" stroke="#111" stroke-width="0.08">-22.55</text>
<line x1="88.70" y1="746.84" x2="89.60" y2="746.84" stroke="#707070" stroke-width="1.1"/>
<line x1="88.10" y1="754.36" x2="89.60" y2="754.36" stroke="#707070" stroke-width="1.1"/>
<text x="85.80" y="756.56" font-size="6.3" font-weight="bold" text-anchor="end" fill="#111" textLength="26.90" lengthAdjust="spacingAndGlyphs" stroke="#111" stroke-width="0.08">-22.60</text>
<line x1="88.70" y1="761.87" x2="89.60" y2="761.87" stroke="#707070" stroke-width="1.1"/>
<line x1="88.10" y1="769.39" x2="89.60" y2="769.39" stroke="#707070" stroke-width="1.1"/>
<text x="85.80" y="771.60" font-size="6.3" font-weight="bold" text-anchor="end" fill="#111" textLength="26.90" lengthAdjust="spacingAndGlyphs" stroke="#111" stroke-width="0.08">-22.65</text>
<line x1="88.70" y1="776.90" x2="89.60" y2="776.90" stroke="#707070" stroke-width="1.1"/>
<line x1="88.10" y1="784.42" x2="89.60" y2="784.42" stroke="#707070" stroke-width="1.1"/>
<text x="85.80" y="786.62" font-size="6.3" font-weight="bold" text-anchor="end" fill="#111" textLength="26.90" lengthAdjust="spacingAndGlyphs" stroke="#111" stroke-width="0.08">-22.70</text>
<line x1="88.70" y1="791.93" x2="89.60" y2="791.93" stroke="#707070" stroke-width="1.1"/>
<line x1="88.10" y1="799.45" x2="89.60" y2="799.45" stroke="#707070" stroke-width="1.1"/>
<text x="85.80" y="801.65" font-size="6.3" font-weight="bold" text-anchor="end" fill="#111" textLength="26.90" lengthAdjust="spacingAndGlyphs" stroke="#111" stroke-width="0.08">-22.75</text>
<line x1="88.70" y1="806.96" x2="89.60" y2="806.96" stroke="#707070" stroke-width="1.1"/>
<line x1="88.10" y1="814.48" x2="89.60" y2="814.48" stroke="#707070" stroke-width="1.1"/>
<text x="85.80" y="816.68" font-size="6.3" font-weight="bold" text-anchor="end" fill="#111" textLength="26.90" lengthAdjust="spacingAndGlyphs" stroke="#111" stroke-width="0.08">-22.80</text>
<line x1="89.60" y1="822.10" x2="89.60" y2="823.60" stroke="#707070" stroke-width="1.1"/>
<text x="89.60" y="830.91" font-size="6.3" font-weight="bold" text-anchor="middle" fill="#111" textLength="18.00" lengthAdjust="spacingAndGlyphs" stroke="#111" stroke-width="0.08">3.19</text>
<line x1="103.30" y1="822.10" x2="103.30" y2="823.00" stroke="#707070" stroke-width="1.1"/>
<line x1="117.00" y1="822.10" x2="117.00" y2="823.60" stroke="#707070" stroke-width="1.1"/>
<text x="117.00" y="830.91" font-size="6.3" font-weight="bold" text-anchor="middle" fill="#111" textLength="18.00" lengthAdjust="spacingAndGlyphs" stroke="#111" stroke-width="0.08">3.20</text>
<line x1="130.70" y1="822.10" x2="130.70" y2="823.00" stroke="#707070" stroke-width="1.1"/>
<line x1="144.40" y1="822.10" x2="144.40" y2="823.60" stroke="#707070" stroke-width="1.1"/>
<text x="144.40" y="830.91" font-size="6.3" font-weight="bold" text-anchor="middle" fill="#111" textLength="18.00" lengthAdjust="spacingAndGlyphs" stroke="#111" stroke-width="0.08">3.21</text>
<line x1="158.10" y1="822.10" x2="158.10" y2="823.00" stroke="#707070" stroke-width="1.1"/>
<line x1="171.80" y1="822.10" x2="171.80" y2="823.60" stroke="#707070" stroke-width="1.1"/>
<text x="171.80" y="830.91" font-size="6.3" font-weight="bold" text-anchor="middle" fill="#111" textLength="18.00" lengthAdjust="spacingAndGlyphs" stroke="#111" stroke-width="0.08">3.22</text>
<line x1="185.50" y1="822.10" x2="185.50" y2="823.00" stroke="#707070" stroke-width="1.1"/>
<line x1="199.20" y1="822.10" x2="199.20" y2="823.60" stroke="#707070" stroke-width="1.1"/>
<text x="199.20" y="830.91" font-size="6.3" font-weight="bold" text-anchor="middle" fill="#111" textLength="18.00" lengthAdjust="spacingAndGlyphs" stroke="#111" stroke-width="0.08">3.23</text>
<line x1="212.90" y1="822.10" x2="212.90" y2="823.00" stroke="#707070" stroke-width="1.1"/>
<line x1="226.60" y1="822.10" x2="226.60" y2="823.60" stroke="#707070" stroke-width="1.1"/>
<text x="226.60" y="830.91" font-size="6.3" font-weight="bold" text-anchor="middle" fill="#111" textLength="18.00" lengthAdjust="spacingAndGlyphs" stroke="#111" stroke-width="0.08">3.24</text>
<line x1="240.30" y1="822.10" x2="240.30" y2="823.00" stroke="#707070" stroke-width="1.1"/>
<line x1="254.00" y1="822.10" x2="254.00" y2="823.60" stroke="#707070" stroke-width="1.1"/>
<text x="254.00" y="830.91" font-size="6.3" font-weight="bold" text-anchor="middle" fill="#111" textLength="18.00" lengthAdjust="spacingAndGlyphs" stroke="#111" stroke-width="0.08">3.25</text>
<line x1="104.00" y1="722.10" x2="244.80" y2="793.70" stroke="#f6c2c2" stroke-width="1.0"/>
<rect x="101.80" y="728.00" width="3.20" height="2.20" fill="#111"/>
<rect x="129.60" y="730.20" width="3.20" height="2.20" fill="#111"/>
<rect x="157.90" y="744.40" width="3.20" height="2.20" fill="#111"/>
<rect x="243.20" y="795.90" width="3.20" height="2.20" fill="#111"/>
<text x="205.40" y="726.50" font-size="10.34" font-weight="bold" text-anchor="start" fill="#111" textLength="61.20" lengthAdjust="spacingAndGlyphs" stroke="#111" stroke-width="0.3">30 V/cm</text>
<text x="209.20" y="737.40" font-size="10.34" font-weight="bold" text-anchor="start" fill="#111" textLength="62.90" lengthAdjust="spacingAndGlyphs" stroke="#111" stroke-width="0.3">region 2</text>
<text x="137.30" y="843.00" font-size="8.8" font-weight="bold" fill="#111" stroke="#111" stroke-width="0.35" textLength="64.20" lengthAdjust="spacingAndGlyphs">1000/T<tspan font-size="8.36" font-weight="normal">(</tspan>K<tspan dy="-3.96" font-size="7.04">-1</tspan><tspan dy="3.96" font-size="8.36" font-weight="normal">)</tspan></text>
<text transform="translate(49.90,765.70) rotate(-90)" x="0" y="0" font-size="9" font-weight="bold" text-anchor="middle" fill="#111" stroke="#111" stroke-width="0.45" textLength="22.20" lengthAdjust="spacingAndGlyphs">Ln<tspan font-size="7.20">(I)</tspan></text>
<line x1="384.70" y1="723.00" x2="384.70" y2="830.90" stroke="#707070" stroke-width="1.1"/>
<line x1="384.70" y1="830.90" x2="602.00" y2="830.90" stroke="#707070" stroke-width="1.1"/>
<line x1="383.20" y1="728.00" x2="384.70" y2="728.00" stroke="#707070" stroke-width="1.1"/>
<text x="379.90" y="730.21" font-size="6.3" font-weight="bold" text-anchor="end" fill="#111" textLength="26.30" lengthAdjust="spacingAndGlyphs" stroke="#111" stroke-width="0.12">-23.0</text>
<line x1="383.80" y1="740.17" x2="384.70" y2="740.17" stroke="#707070" stroke-width="1.1"/>
<line x1="383.20" y1="752.35" x2="384.70" y2="752.35" stroke="#707070" stroke-width="1.1"/>
<text x="379.90" y="754.56" font-size="6.3" font-weight="bold" text-anchor="end" fill="#111" textLength="26.30" lengthAdjust="spacingAndGlyphs" stroke="#111" stroke-width="0.12">-23.2</text>
<line x1="383.80" y1="764.52" x2="384.70" y2="764.52" stroke="#707070" stroke-width="1.1"/>
<line x1="383.20" y1="776.70" x2="384.70" y2="776.70" stroke="#707070" stroke-width="1.1"/>
<text x="379.90" y="778.91" font-size="6.3" font-weight="bold" text-anchor="end" fill="#111" textLength="26.30" lengthAdjust="spacingAndGlyphs" stroke="#111" stroke-width="0.12">-23.4</text>
<line x1="383.80" y1="788.88" x2="384.70" y2="788.88" stroke="#707070" stroke-width="1.1"/>
<line x1="383.20" y1="801.05" x2="384.70" y2="801.05" stroke="#707070" stroke-width="1.1"/>
<text x="379.90" y="803.25" font-size="6.3" font-weight="bold" text-anchor="end" fill="#111" textLength="26.30" lengthAdjust="spacingAndGlyphs" stroke="#111" stroke-width="0.12">-23.6</text>
<line x1="383.80" y1="813.22" x2="384.70" y2="813.22" stroke="#707070" stroke-width="1.1"/>
<line x1="383.20" y1="825.40" x2="384.70" y2="825.40" stroke="#707070" stroke-width="1.1"/>
<text x="379.90" y="827.61" font-size="6.3" font-weight="bold" text-anchor="end" fill="#111" textLength="26.30" lengthAdjust="spacingAndGlyphs" stroke="#111" stroke-width="0.12">-23.8</text>
<line x1="439.60" y1="830.90" x2="439.60" y2="832.40" stroke="#707070" stroke-width="1.1"/>
<text x="439.60" y="840.91" font-size="6.3" font-weight="bold" text-anchor="middle" fill="#111" textLength="23.00" lengthAdjust="spacingAndGlyphs" stroke="#111" stroke-width="0.12">2.82</text>
<line x1="480.20" y1="830.90" x2="480.20" y2="831.80" stroke="#707070" stroke-width="1.1"/>
<line x1="520.80" y1="830.90" x2="520.80" y2="832.40" stroke="#707070" stroke-width="1.1"/>
<text x="520.80" y="840.91" font-size="6.3" font-weight="bold" text-anchor="middle" fill="#111" textLength="23.00" lengthAdjust="spacingAndGlyphs" stroke="#111" stroke-width="0.12">2.85</text>
<line x1="561.40" y1="830.90" x2="561.40" y2="831.80" stroke="#707070" stroke-width="1.1"/>
<line x1="602.00" y1="830.90" x2="602.00" y2="832.40" stroke="#707070" stroke-width="1.1"/>
<text x="602.00" y="840.91" font-size="6.3" font-weight="bold" text-anchor="middle" fill="#111" textLength="23.00" lengthAdjust="spacingAndGlyphs" stroke="#111" stroke-width="0.12">2.88</text>
<line x1="399.00" y1="830.90" x2="399.00" y2="831.80" stroke="#707070" stroke-width="1.1"/>
<line x1="409.30" y1="737.40" x2="582.80" y2="818.40" stroke="#f6c2c2" stroke-width="1.0"/>
<rect x="407.70" y="734.10" width="3.20" height="2.20" fill="#111"/>
<rect x="429.10" y="748.10" width="3.20" height="2.20" fill="#111"/>
<rect x="472.60" y="763.00" width="3.20" height="2.20" fill="#111"/>
<rect x="494.70" y="780.10" width="3.20" height="2.20" fill="#111"/>
<rect x="582.90" y="818.40" width="3.20" height="2.20" fill="#111"/>
<text x="540.80" y="725.10" font-size="11.28" font-weight="bold" text-anchor="start" fill="#111" textLength="73.90" lengthAdjust="spacingAndGlyphs" stroke="#111" stroke-width="0.3">10 V/cm</text>
<text x="541.40" y="738.30" font-size="11.28" font-weight="bold" text-anchor="start" fill="#111" textLength="75.90" lengthAdjust="spacingAndGlyphs" stroke="#111" stroke-width="0.3">region 3</text>
<text x="451.00" y="851.00" font-size="8.8" font-weight="bold" fill="#111" stroke="#111" stroke-width="0.35" textLength="79.00" lengthAdjust="spacingAndGlyphs">1000/T <tspan font-size="8.36" font-weight="normal">(</tspan>K<tspan dy="-2.20" font-size="5.28">-1</tspan><tspan dy="2.20" font-size="8.36" font-weight="normal">)</tspan></text>
<text transform="translate(344.60,770.70) rotate(-90)" x="0" y="0" font-size="8.8" font-weight="bold" text-anchor="middle" fill="#111" stroke="#111" stroke-width="0.45" textLength="23.40" lengthAdjust="spacingAndGlyphs">Ln<tspan font-size="7.04">(I)</tspan></text>
<line x1="70.40" y1="892.10" x2="70.40" y2="990.60" stroke="#707070" stroke-width="1.1"/>
<line x1="70.40" y1="990.60" x2="265.60" y2="990.60" stroke="#707070" stroke-width="1.1"/>
<line x1="68.90" y1="896.90" x2="70.40" y2="896.90" stroke="#707070" stroke-width="1.1"/>
<text x="67.10" y="899.11" font-size="6.3" font-weight="bold" text-anchor="end" fill="#111" textLength="31.30" lengthAdjust="spacingAndGlyphs" stroke="#111" stroke-width="0.12">-22.48</text>
<line x1="69.50" y1="905.88" x2="70.40" y2="905.88" stroke="#707070" stroke-width="1.1"/>
<line x1="68.90" y1="914.86" x2="70.40" y2="914.86" stroke="#707070" stroke-width="1.1"/>
<text x="67.10" y="917.07" font-size="6.3" font-weight="bold" text-anchor="end" fill="#111" textLength="31.30" lengthAdjust="spacingAndGlyphs" stroke="#111" stroke-width="0.12">-22.52</text>
<line x1="69.50" y1="923.84" x2="70.40" y2="923.84" stroke="#707070" stroke-width="1.1"/>
<line x1="68.90" y1="932.82" x2="70.40" y2="932.82" stroke="#707070" stroke-width="1.1"/>
<text x="67.10" y="935.02" font-size="6.3" font-weight="bold" text-anchor="end" fill="#111" textLength="31.30" lengthAdjust="spacingAndGlyphs" stroke="#111" stroke-width="0.12">-22.56</text>
<line x1="69.50" y1="941.80" x2="70.40" y2="941.80" stroke="#707070" stroke-width="1.1"/>
<line x1="68.90" y1="950.78" x2="70.40" y2="950.78" stroke="#707070" stroke-width="1.1"/>
<text x="67.10" y="952.99" font-size="6.3" font-weight="bold" text-anchor="end" fill="#111" textLength="31.30" lengthAdjust="spacingAndGlyphs" stroke="#111" stroke-width="0.12">-22.60</text>
<line x1="69.50" y1="959.76" x2="70.40" y2="959.76" stroke="#707070" stroke-width="1.1"/>
<line x1="68.90" y1="968.74" x2="70.40" y2="968.74" stroke="#707070" stroke-width="1.1"/>
<text x="67.10" y="970.95" font-size="6.3" font-weight="bold" text-anchor="end" fill="#111" textLength="31.30" lengthAdjust="spacingAndGlyphs" stroke="#111" stroke-width="0.12">-22.64</text>
<line x1="69.50" y1="977.72" x2="70.40" y2="977.72" stroke="#707070" stroke-width="1.1"/>
<line x1="68.90" y1="986.70" x2="70.40" y2="986.70" stroke="#707070" stroke-width="1.1"/>
<text x="67.10" y="988.91" font-size="6.3" font-weight="bold" text-anchor="end" fill="#111" textLength="31.30" lengthAdjust="spacingAndGlyphs" stroke="#111" stroke-width="0.12">-22.68</text>
<line x1="115.40" y1="990.60" x2="115.40" y2="992.10" stroke="#707070" stroke-width="1.1"/>
<text x="115.40" y="999.21" font-size="6.3" font-weight="bold" text-anchor="middle" fill="#111" textLength="19.00" lengthAdjust="spacingAndGlyphs" stroke="#111" stroke-width="0.12">2.99</text>
<line x1="145.50" y1="990.60" x2="145.50" y2="991.50" stroke="#707070" stroke-width="1.1"/>
<line x1="175.60" y1="990.60" x2="175.60" y2="992.10" stroke="#707070" stroke-width="1.1"/>
<text x="175.60" y="999.21" font-size="6.3" font-weight="bold" text-anchor="middle" fill="#111" textLength="19.00" lengthAdjust="spacingAndGlyphs" stroke="#111" stroke-width="0.12">3.00</text>
<line x1="205.70" y1="990.60" x2="205.70" y2="991.50" stroke="#707070" stroke-width="1.1"/>
<line x1="235.80" y1="990.60" x2="235.80" y2="992.10" stroke="#707070" stroke-width="1.1"/>
<text x="235.80" y="999.21" font-size="6.3" font-weight="bold" text-anchor="middle" fill="#111" textLength="19.00" lengthAdjust="spacingAndGlyphs" stroke="#111" stroke-width="0.12">3.01</text>
<line x1="85.30" y1="990.60" x2="85.30" y2="991.50" stroke="#707070" stroke-width="1.1"/>
<line x1="87.90" y1="897.60" x2="247.40" y2="983.80" stroke="#f6c2c2" stroke-width="1.0"/>
<rect x="83.70" y="899.10" width="3.20" height="2.20" fill="#111"/>
<rect x="137.70" y="914.00" width="3.20" height="2.20" fill="#111"/>
<rect x="191.80" y="966.50" width="3.20" height="2.20" fill="#111"/>
<rect x="246.30" y="979.00" width="3.20" height="2.20" fill="#111"/>
<text x="193.40" y="896.90" font-size="10.34" font-weight="bold" text-anchor="start" fill="#111" textLength="66.70" lengthAdjust="spacingAndGlyphs" stroke="#111" stroke-width="0.3">50 V/cm</text>
<text x="190.10" y="908.90" font-size="10.34" font-weight="bold" text-anchor="start" fill="#111" textLength="69.30" lengthAdjust="spacingAndGlyphs" stroke="#111" stroke-width="0.3">region 2</text>
<text x="130.60" y="1010.20" font-size="8.8" font-weight="bold" fill="#111" stroke="#111" stroke-width="0.35" textLength="71.50" lengthAdjust="spacingAndGlyphs">1000/T<tspan font-size="8.36" font-weight="normal">(</tspan>K<tspan dy="-3.52" font-size="7.04">-1</tspan><tspan dy="3.52" font-size="8.36" font-weight="normal">)</tspan></text>
<text transform="translate(30.20,940.70) rotate(-90)" x="0" y="0" font-size="8.5" font-weight="bold" text-anchor="middle" fill="#111" stroke="#111" stroke-width="0.45" textLength="21.60" lengthAdjust="spacingAndGlyphs">Ln<tspan font-size="6.80">(I)</tspan></text>
<line x1="388.70" y1="892.10" x2="388.70" y2="995.90" stroke="#707070" stroke-width="1.1"/>
<line x1="388.70" y1="995.90" x2="605.80" y2="995.90" stroke="#707070" stroke-width="1.1"/>
<line x1="385.70" y1="892.80" x2="388.70" y2="892.80" stroke="#707070" stroke-width="1.1"/>
<text x="382.60" y="895.00" font-size="6.3" font-weight="bold" text-anchor="end" fill="#111" textLength="31.80" lengthAdjust="spacingAndGlyphs" stroke="#111" stroke-width="0.12">-22.75</text>
<line x1="386.90" y1="901.38" x2="388.70" y2="901.38" stroke="#707070" stroke-width="1.1"/>
<line x1="385.70" y1="909.95" x2="388.70" y2="909.95" stroke="#707070" stroke-width="1.1"/>
<text x="382.60" y="912.15" font-size="6.3" font-weight="bold" text-anchor="end" fill="#111" textLength="31.80" lengthAdjust="spacingAndGlyphs" stroke="#111" stroke-width="0.12">-22.76</text>
<line x1="386.90" y1="918.52" x2="388.70" y2="918.52" stroke="#707070" stroke-width="1.1"/>
<line x1="385.70" y1="927.10" x2="388.70" y2="927.10" stroke="#707070" stroke-width="1.1"/>
<text x="382.60" y="929.30" font-size="6.3" font-weight="bold" text-anchor="end" fill="#111" textLength="31.80" lengthAdjust="spacingAndGlyphs" stroke="#111" stroke-width="0.12">-22.77</text>
<line x1="386.90" y1="935.67" x2="388.70" y2="935.67" stroke="#707070" stroke-width="1.1"/>
<line x1="385.70" y1="944.25" x2="388.70" y2="944.25" stroke="#707070" stroke-width="1.1"/>
<text x="382.60" y="946.46" font-size="6.3" font-weight="bold" text-anchor="end" fill="#111" textLength="31.80" lengthAdjust="spacingAndGlyphs" stroke="#111" stroke-width="0.12">-22.78</text>
<line x1="386.90" y1="952.83" x2="388.70" y2="952.83" stroke="#707070" stroke-width="1.1"/>
<line x1="385.70" y1="961.40" x2="388.70" y2="961.40" stroke="#707070" stroke-width="1.1"/>
<text x="382.60" y="963.61" font-size="6.3" font-weight="bold" text-anchor="end" fill="#111" textLength="31.80" lengthAdjust="spacingAndGlyphs" stroke="#111" stroke-width="0.12">-22.79</text>
<line x1="386.90" y1="969.98" x2="388.70" y2="969.98" stroke="#707070" stroke-width="1.1"/>
<line x1="385.70" y1="978.55" x2="388.70" y2="978.55" stroke="#707070" stroke-width="1.1"/>
<text x="382.60" y="980.75" font-size="6.3" font-weight="bold" text-anchor="end" fill="#111" textLength="31.80" lengthAdjust="spacingAndGlyphs" stroke="#111" stroke-width="0.12">-22.80</text>
<line x1="386.90" y1="987.12" x2="388.70" y2="987.12" stroke="#707070" stroke-width="1.1"/>
<line x1="385.70" y1="995.70" x2="388.70" y2="995.70" stroke="#707070" stroke-width="1.1"/>
<text x="382.60" y="997.90" font-size="6.3" font-weight="bold" text-anchor="end" fill="#111" textLength="31.80" lengthAdjust="spacingAndGlyphs" stroke="#111" stroke-width="0.12">-22.81</text>
<line x1="388.70" y1="995.90" x2="388.70" y2="998.90" stroke="#707070" stroke-width="1.1"/>
<text x="388.70" y="1005.11" font-size="6.3" font-weight="bold" text-anchor="middle" fill="#111" textLength="29.00" lengthAdjust="spacingAndGlyphs" stroke="#111" stroke-width="0.12">2.740</text>
<line x1="410.30" y1="995.90" x2="410.30" y2="997.70" stroke="#707070" stroke-width="1.1"/>
<line x1="431.90" y1="995.90" x2="431.90" y2="998.90" stroke="#707070" stroke-width="1.1"/>
<text x="431.90" y="1005.11" font-size="6.3" font-weight="bold" text-anchor="middle" fill="#111" textLength="29.00" lengthAdjust="spacingAndGlyphs" stroke="#111" stroke-width="0.12">2.745</text>
<line x1="453.50" y1="995.90" x2="453.50" y2="997.70" stroke="#707070" stroke-width="1.1"/>
<line x1="475.10" y1="995.90" x2="475.10" y2="998.90" stroke="#707070" stroke-width="1.1"/>
<text x="475.10" y="1005.11" font-size="6.3" font-weight="bold" text-anchor="middle" fill="#111" textLength="29.00" lengthAdjust="spacingAndGlyphs" stroke="#111" stroke-width="0.12">2.750</text>
<line x1="496.70" y1="995.90" x2="496.70" y2="997.70" stroke="#707070" stroke-width="1.1"/>
<line x1="518.30" y1="995.90" x2="518.30" y2="998.90" stroke="#707070" stroke-width="1.1"/>
<text x="518.30" y="1005.11" font-size="6.3" font-weight="bold" text-anchor="middle" fill="#111" textLength="29.00" lengthAdjust="spacingAndGlyphs" stroke="#111" stroke-width="0.12">2.755</text>
<line x1="539.90" y1="995.90" x2="539.90" y2="997.70" stroke="#707070" stroke-width="1.1"/>
<line x1="561.50" y1="995.90" x2="561.50" y2="998.90" stroke="#707070" stroke-width="1.1"/>
<text x="561.50" y="1005.11" font-size="6.3" font-weight="bold" text-anchor="middle" fill="#111" textLength="29.00" lengthAdjust="spacingAndGlyphs" stroke="#111" stroke-width="0.12">2.760</text>
<line x1="583.10" y1="995.90" x2="583.10" y2="997.70" stroke="#707070" stroke-width="1.1"/>
<line x1="604.70" y1="995.90" x2="604.70" y2="998.90" stroke="#707070" stroke-width="1.1"/>
<text x="604.70" y="1005.11" font-size="6.3" font-weight="bold" text-anchor="middle" fill="#111" textLength="29.00" lengthAdjust="spacingAndGlyphs" stroke="#111" stroke-width="0.12">2.765</text>
<line x1="451.10" y1="904.60" x2="581.70" y2="988.90" stroke="#f6c2c2" stroke-width="1.0"/>
<rect x="449.50" y="900.20" width="3.20" height="2.20" fill="#111"/>
<rect x="515.50" y="953.80" width="3.20" height="2.20" fill="#111"/>
<rect x="581.20" y="985.60" width="3.20" height="2.20" fill="#111"/>
<text x="549.10" y="898.20" font-size="11.09" font-weight="bold" text-anchor="start" fill="#111" textLength="74.00" lengthAdjust="spacingAndGlyphs" stroke="#111" stroke-width="0.3">50 V/cm</text>
<text x="552.70" y="911.40" font-size="11.09" font-weight="bold" text-anchor="start" fill="#111" textLength="76.90" lengthAdjust="spacingAndGlyphs" stroke="#111" stroke-width="0.3">region 3</text>
<text x="450.20" y="1018.00" font-size="8.8" font-weight="bold" fill="#111" stroke="#111" stroke-width="0.35" textLength="77.60" lengthAdjust="spacingAndGlyphs">1000/T<tspan font-size="6.34" font-weight="normal">(</tspan>K<tspan dy="-3.52" font-size="7.04">-1</tspan><tspan dy="3.52" font-size="6.34" font-weight="normal">)</tspan></text>
<text transform="translate(340.10,938.90) rotate(-90)" x="0" y="0" font-size="8.8" font-weight="bold" text-anchor="middle" fill="#111" stroke="#111" stroke-width="0.45" textLength="22.20" lengthAdjust="spacingAndGlyphs">Ln<tspan font-size="7.04">(I)</tspan></text>
</g>
<defs><filter id="bl2" color-interpolation-filters="sRGB" filterUnits="userSpaceOnUse" x="0" y="0" width="685" height="1029"><feConvolveMatrix order="3" kernelMatrix="1 5 1 5 25 5 1 5 1" edgeMode="none" preserveAlpha="false"/></filter></defs>
<g filter="url(#bl2)">
<rect x="32.00" y="0.00" width="650.00" height="1.00" fill="#c8c8c8"/>
<rect x="32.00" y="1.00" width="650.00" height="1.00" fill="#999"/>
<rect x="32.00" y="0.00" width="2.00" height="449.00" fill="#a8a8a8"/>
<rect x="340.60" y="0.00" width="2.00" height="156.00" fill="#7a7a7a"/>
<rect x="341.00" y="156.00" width="2.20" height="293.00" fill="#3a3a3a"/>
<rect x="680.30" y="0.00" width="2.00" height="303.00" fill="#6a6a6a"/>
<rect x="682.20" y="302.00" width="1.80" height="147.00" fill="#6a6a6a"/>
<rect x="32.00" y="154.60" width="651.00" height="2.30" fill="#606060"/>
<rect x="32.00" y="301.00" width="309.00" height="3.50" fill="#5a5a5a"/>
<rect x="341.00" y="301.00" width="342.00" height="2.00" fill="#404040"/>
<rect x="32.00" y="447.00" width="652.00" height="2.00" fill="#6a6a6a"/>
<rect x="0.00" y="526.70" width="649.00" height="1.50" fill="#7a7a7a"/>
<rect x="0.00" y="527.00" width="1.20" height="344.00" fill="#707070"/>
<rect x="0.00" y="871.00" width="1.20" height="158.00" fill="#999"/>
<rect x="1.20" y="871.00" width="1.90" height="158.00" fill="#555"/>
<rect x="303.80" y="527.00" width="1.80" height="502.00" fill="#000"/>
<rect x="647.60" y="527.00" width="1.60" height="502.00" fill="#444"/>
<rect x="0.00" y="697.00" width="649.00" height="2.00" fill="#333"/>
<rect x="0.00" y="869.50" width="305.00" height="2.20" fill="#111"/>
<rect x="305.00" y="869.50" width="344.00" height="2.20" fill="#666"/>
<rect x="0.00" y="1026.60" width="305.00" height="2.40" fill="#333"/>
<rect x="305.00" y="1026.60" width="344.00" height="2.40" fill="#777"/>
</g>
</svg></body></html>
